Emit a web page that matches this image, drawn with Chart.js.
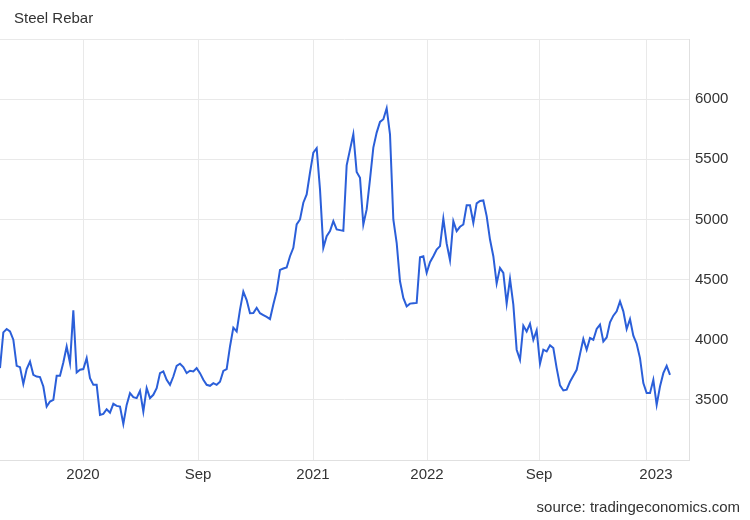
<!DOCTYPE html>
<html>
<head>
<meta charset="utf-8">
<style>
  body { margin: 0; background: #fff; }
</style>
</head>
<body>
<canvas id="myChart" width="750" height="520"></canvas>
<script src="https://cdn.jsdelivr.net/npm/chart.js"></script>
<script>
  // weekly closes, mid 2019 .. early 2023
  const rebar = [
    3764, 4061, 4089, 4069, 4000, 3783, 3772, 3633, 3756, 3819,
    3708, 3694, 3689, 3611, 3444, 3486, 3500, 3700, 3700, 3811,
    3944, 3806, 4244, 3728, 3750, 3756, 3847, 3681, 3625, 3625,
    3375, 3383, 3422, 3394, 3467, 3450, 3444, 3300, 3458, 3556,
    3522, 3514, 3575, 3403, 3597, 3514, 3542, 3597, 3722, 3736,
    3667, 3625, 3694, 3783, 3800, 3772, 3722, 3742, 3736, 3764,
    3722, 3667, 3625, 3617, 3639, 3625, 3650, 3740, 3755, 3944,
    4100, 4069, 4250, 4400, 4330, 4220, 4222, 4265, 4220, 4205,
    4190, 4172, 4292, 4403, 4580, 4592, 4600, 4694, 4764, 4958,
    5000, 5139, 5208, 5389, 5556, 5592, 5250, 4764, 4861, 4903,
    4986, 4917, 4911, 4905, 5450, 5580, 5708, 5394, 5347, 4958,
    5083, 5333, 5597, 5722, 5811, 5833, 5925, 5708, 5000, 4806,
    4486, 4347, 4278, 4300, 4303, 4306, 4686, 4694, 4556, 4644,
    4694, 4750, 4778, 5006, 4800, 4661, 4986, 4903, 4939, 4958,
    5117, 5117, 4972, 5133, 5153, 5158, 5028, 4833, 4694, 4467,
    4597, 4556, 4300, 4506, 4292, 3917, 3833, 4117, 4069, 4133,
    4000, 4078, 3800, 3917, 3903, 3953, 3931, 3764, 3620, 3578,
    3585, 3650, 3700, 3750, 3880, 4006, 3917, 4014, 4000, 4089,
    4125, 3986, 4019, 4144, 4200, 4236, 4319, 4236, 4089, 4172,
    4033, 3967, 3847, 3639, 3556, 3556, 3667, 3458, 3611, 3722,
    3783, 3708
  ];

  // x axis is in week index units
  const xGridAt = [24.9, 59.4, 93.9, 128.1, 161.7, 193.8];
  const xLabelAt = [24.9, 59.4, 93.9, 128.1, 161.7, 196.8];
  const xLabels = ["2020", "Sep", "2021", "2022", "Sep", "2023"];
  const yTicks = [3000, 3500, 4000, 4500, 5000, 5500, 6000, 6500];

  const FONT = '"Liberation Sans", Arial, sans-serif';
  const gridColor = "#e9e9e9";

  const texts = {
    id: "texts",
    afterDraw(chart) {
      const ctx = chart.ctx;
      ctx.save();
      ctx.fillStyle = "#333";
      ctx.textBaseline = "middle";
      ctx.font = "15px " + FONT;
      ctx.textAlign = "left";
      ctx.fillText("Steel Rebar", 14, 19);
      ctx.textAlign = "right";
      ctx.fillText("source: tradingeconomics.com", 740, 508);
      ctx.restore();
    },
  };

  new Chart(document.getElementById("myChart"), {
    type: "line",
    data: {
      datasets: [
        {
          label: "Steel Rebar",
          data: rebar.map((v, i) => ({ x: i, y: v })),
          borderColor: "#2b5fd9",
          borderWidth: 2,
          pointRadius: 0,
          tension: 0,
        },
      ],
    },
    options: {
      responsive: false,
      animation: false,
      layout: { padding: { top: 39, bottom: 30, left: 0, right: 0 } },
      plugins: { legend: { display: false }, tooltip: { enabled: false } },
      scales: {
        x: {
          type: "linear",
          min: 0,
          max: 206.7,
          afterBuildTicks: (s) => {
            const vals = [...new Set([...xGridAt, ...xLabelAt])].sort((a, b) => a - b);
            s.ticks = vals.map((v) => ({ value: v }));
          },
          afterFit: (s) => { s.height = 30; },
          ticks: {
            autoSkip: false,
            maxRotation: 0,
            padding: 6,
            color: "#333",
            font: { family: FONT, size: 15 },
            callback: (v) => {
              const k = xLabelAt.indexOf(v);
              return k >= 0 ? xLabels[k] : "";
            },
          },
          grid: {
            drawTicks: false,
            color: (c) => (c.tick && xGridAt.includes(c.tick.value) ? gridColor : "rgba(0,0,0,0)"),
          },
          border: { color: "#e0e0e0" },
        },
        y: {
          position: "right",
          min: 3000,
          max: 6500,
          afterBuildTicks: (s) => { s.ticks = yTicks.map((v) => ({ value: v })); },
          afterFit: (s) => { s.width = 61; },
          ticks: {
            padding: 6,
            color: "#333",
            font: { family: FONT, size: 15 },
            callback: (v) => (v === 3000 || v === 6500 ? "" : v),
          },
          grid: { drawTicks: false, color: gridColor },
          border: { color: "#e0e0e0" },
        },
      },
    },
    plugins: [texts],
  });
</script>
</body>
</html>
